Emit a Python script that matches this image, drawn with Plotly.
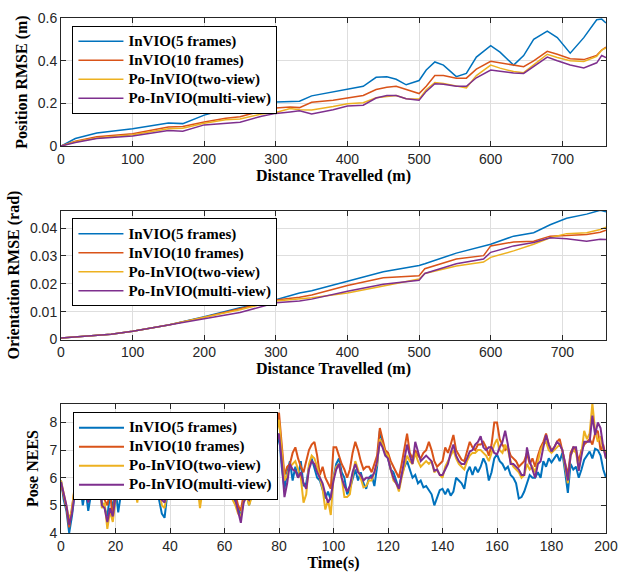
import plotly.graph_objects as go

# ---------------- data ----------------
names = ["InVIO(5 frames)", "InVIO(10 frames)", "Po-InVIO(two-view)", "Po-InVIO(multi-view)"]
colors = ["#0072BD", "#D95319", "#EDB120", "#7E2F8E"]

# Position RMSE (m) vs distance (m)
dist_pos = [0, 20, 50, 100, 150, 170, 200, 230, 250, 280, 300, 320, 333, 350, 380, 400, 422, 440, 455, 468,
            482, 500, 510, 522, 534, 552, 566, 580, 600, 613, 632, 646, 660, 679, 693, 711, 730, 748, 755, 761]
pos_invio5 = [0, .035, .061, .081, .108, .105, .145, .172, .158, .195, .206, .208, .21, .235, .255, .265, .28, .322, .325, .313,
              .287, .307, .356, .394, .379, .325, .34, .417, .47, .44, .379, .424, .50, .539, .508, .435, .508, .592, .595, .577]
pos_invio10 = [0, .023, .043, .058, .089, .092, .113, .13, .137, .165, .178, .183, .18, .205, .215, .226, .237, .265, .275, .28,
               .265, .246, .28, .33, .33, .318, .318, .36, .397, .39, .378, .372, .399, .444, .43, .409, .405, .425, .45, .463]
pos_two = [0, .02, .038, .053, .081, .083, .107, .123, .127, .15, .157, .176, .17, .169, .185, .198, .203, .226, .232, .237,
           .222, .22, .264, .298, .293, .282, .272, .33, .379, .365, .349, .344, .379, .43, .415, .40, .396, .42, .45, .46]
pos_multi = [0, .017, .035, .047, .073, .069, .099, .107, .111, .14, .153, .16, .165, .15, .17, .188, .191, .225, .237, .237,
             .222, .215, .256, .292, .29, .28, .28, .32, .356, .35, .342, .34, .371, .417, .40, .38, .366, .39, .424, .414]

# Orientation RMSE (rad) vs distance (m)
dist_ori = [0, 50, 70, 100, 150, 200, 250, 300, 333, 350, 400, 450, 500, 508, 552, 590, 600, 632, 660, 683, 706, 734, 753, 761]
ori_invio5 = [.0005, .0015, .0019, .003, .0052, .0082, .0114, .0143, .0167, .0175, .0208, .0243, .0266, .0272, .031, .0335,
              .0342, .0371, .0383, .0412, .0435, .045, .0464, .0458]
ori_invio10 = [.0005, .0015, .0019, .003, .0052, .0080, .0112, .0142, .0152, .016, .0194, .0222, .0229, .0254, .0289, .0301,
               .0336, .035, .0353, .0371, .0373, .0377, .0385, .0392]
ori_two = [.0005, .0015, .0019, .003, .0052, .0080, .0107, .0138, .0147, .015, .0167, .0192, .0217, .0237, .0264, .0278,
           .0295, .0318, .0342, .0365, .038, .0383, .0395, .0403]
ori_multi = [.0005, .0015, .0019, .003, .0052, .0076, .0097, .0132, .0138, .0145, .0173, .0198, .0213, .0237, .0272, .0289,
             .0313, .0336, .0348, .0365, .0362, .0353, .036, .0359]

# Pose NEES vs time (s), one reading per second
time_s = list(range(0, 201))
nees_invio5 = [
    5.9, 5.2, 4.8, 4.0, 4.6, 5.5, 6.2, 5.8, 5.0, 5.6,
    4.8, 5.4, 5.9, 5.3, 6.0, 5.1, 4.9, 4.6, 5.4, 4.9,
    5.6, 4.75, 5.5, 6.1, 5.8, 6.2, 5.3, 5.8, 5.2, 5.9,
    6.1, 5.5, 6.0, 5.6, 6.2, 5.7, 5.3, 4.7, 4.55, 5.4,
    5.8, 5.6, 5.3, 6.0, 5.5, 6.2, 5.9, 5.6, 6.3, 5.8,
    5.6, 5.2, 5.8, 5.3, 6.1, 5.8, 6.3, 5.9, 5.5, 6.1,
    5.8, 6.2, 5.6, 5.3, 5.1, 4.9, 4.6, 5.2, 5.5, 5.0,
    5.4, 5.9, 5.6, 6.1, 5.8, 6.3, 6.2, 6.9, 7.2, 7.0,
    7.6, 6.4, 5.6, 6.2, 6.6, 5.9, 6.4, 6.0, 6.6, 5.7,
    5.8, 6.4, 6.7, 6.3, 6.0, 5.9, 5.6, 5.25, 5.5, 5.2,
    6.0, 6.5, 6.7, 6.2, 6.0, 5.4, 5.6, 6.0, 6.3, 5.9,
    6.2, 5.8, 5.6, 6.0, 6.1, 5.7, 6.4, 7.7, 7.3, 6.9,
    6.7, 6.3, 6.2, 5.9, 5.6, 6.1, 6.4, 6.6, 6.3, 6.0,
    6.1, 5.8, 5.9, 5.65, 5.7, 5.55, 5.4, 5.0, 5.3, 5.55,
    5.6, 5.4, 5.6, 5.35, 5.5, 6.0, 5.9, 5.8, 5.6, 6.2,
    6.4, 6.1, 6.4, 6.2, 6.4, 6.7, 6.5, 5.9, 6.2, 6.7,
    6.85, 6.6, 6.5, 6.3, 6.4, 6.1, 6.0, 5.8, 5.25, 5.3,
    5.5, 5.8, 6.1, 6.0, 6.0, 6.2, 6.0, 6.6, 6.4, 6.7,
    6.55, 6.7, 6.85, 6.6, 6.9, 6.2, 5.45, 6.5, 6.3, 6.4,
    6.0, 6.3, 6.65, 6.8, 6.95, 6.7, 7.05, 7.0, 6.8, 6.3,
    6.0]
nees_invio10 = [
    5.8, 5.3, 4.9, 4.2, 4.9, 5.6, 6.3, 6.0, 5.5, 5.9,
    5.3, 5.7, 6.1, 5.6, 6.2, 5.4, 5.2, 5.0, 5.5, 4.5,
    5.6, 5.3, 5.9, 6.3, 6.0, 6.4, 5.6, 6.0, 5.4, 6.1,
    6.3, 5.8, 6.2, 5.9, 6.5, 6.0, 5.7, 5.3, 5.2, 5.8,
    6.1, 5.8, 5.6, 6.3, 5.9, 6.5, 6.2, 5.9, 6.6, 6.1,
    6.0, 5.5, 6.1, 5.6, 6.4, 6.1, 6.5, 6.2, 5.9, 6.4,
    6.2, 6.5, 5.9, 5.6, 5.4, 5.0, 4.8, 5.4, 5.8, 5.3,
    5.7, 6.2, 6.0, 6.4, 6.1, 6.6, 6.9, 7.7, 7.5, 7.9,
    8.35, 7.2, 6.1, 6.4, 6.5, 6.9, 7.1, 6.7, 6.4, 6.2,
    6.6, 7.0, 7.2, 7.3, 6.8, 6.1, 6.4, 6.0, 5.8, 5.6,
    7.1, 7.1, 6.8, 6.5, 6.3, 6.0, 6.3, 6.9, 7.3, 7.0,
    6.6, 6.3, 6.4, 6.4, 6.2, 6.5, 6.8, 7.8, 7.4, 7.0,
    6.9, 6.6, 6.4, 6.2, 6.0, 6.5, 7.0, 7.6, 6.9, 6.7,
    7.0, 6.8, 6.7, 6.9, 7.0, 7.3, 7.0, 6.6, 6.4, 6.5,
    6.6, 7.1, 6.9, 7.2, 7.55, 7.0, 6.8, 6.65, 6.6, 7.0,
    7.3, 7.1, 7.0, 7.2, 7.2, 7.3, 7.1, 6.8, 7.2, 8.0,
    8.0, 7.4, 7.2, 7.0, 7.1, 6.8, 6.7, 6.6, 6.4, 6.5,
    6.6, 6.9, 6.5, 6.7, 6.4, 6.8, 7.1, 7.3, 7.6, 7.2,
    7.0, 7.1, 7.3, 7.4, 7.0, 6.6, 6.1, 6.9, 7.1, 7.0,
    6.6, 7.0, 7.2, 7.3, 7.4, 7.2, 7.6, 7.7, 7.0, 7.2,
    6.7]
nees_two = [
    5.9, 5.4, 5.0, 4.5, 4.8, 5.7, 6.1, 5.9, 5.4, 5.7,
    5.3, 5.6, 5.8, 5.2, 6.1, 4.9, 5.1, 4.15, 4.8, 4.4,
    5.2, 5.4, 5.7, 6.1, 5.6, 6.2, 5.4, 5.7, 5.1, 5.9,
    6.0, 5.6, 5.7, 5.4, 6.2, 5.8, 5.6, 5.0, 4.9, 5.5,
    5.7, 5.5, 5.4, 6.0, 5.6, 6.2, 5.9, 5.7, 6.3, 5.9,
    5.8, 4.9, 5.6, 5.3, 6.0, 5.9, 6.2, 6.0, 5.6, 6.2,
    6.0, 6.3, 5.6, 5.2, 5.0, 4.7, 4.6, 5.1, 5.4, 5.0,
    5.3, 5.9, 5.7, 6.2, 5.9, 6.3, 6.5, 7.4, 7.3, 7.6,
    8.1, 6.9, 5.9, 6.1, 6.4, 6.5, 6.6, 6.3, 6.0, 5.1,
    5.4, 6.5, 6.8, 6.7, 6.4, 6.0, 5.6, 4.85, 5.2, 4.65,
    6.0, 6.4, 6.5, 6.0, 5.3, 5.3, 5.4, 6.1, 6.6, 6.3,
    6.0, 5.65, 5.7, 5.9, 5.9, 6.2, 6.5, 7.4, 7.2, 6.9,
    6.8, 6.3, 5.9, 5.8, 5.5, 6.0, 6.4, 6.8, 6.6, 6.5,
    6.9, 6.6, 6.4, 6.5, 6.6, 6.5, 6.6, 6.2, 6.3, 6.1,
    6.0, 6.4, 6.6, 6.8, 7.0, 6.7, 6.5, 6.4, 6.3, 6.6,
    6.8, 6.9, 6.9, 7.0, 7.0, 6.9, 6.8, 6.6, 6.9, 7.2,
    7.4, 7.0, 6.9, 7.2, 7.0, 6.6, 6.4, 6.3, 6.2, 6.0,
    6.1, 6.5, 6.3, 6.4, 6.2, 6.6, 7.0, 7.2, 7.3, 7.0,
    6.9, 7.0, 7.1, 7.2, 7.0, 6.4, 5.8, 6.8, 7.0, 6.9,
    6.3, 6.9, 7.7, 7.4, 7.6, 8.7, 7.7, 7.3, 7.5, 7.0,
    6.95]
nees_multi = [
    5.85, 5.4, 5.0, 4.3, 4.7, 5.4, 5.9, 5.6, 5.5, 5.8,
    5.1, 5.5, 5.7, 5.3, 6.0, 5.0, 4.9, 4.4, 4.9, 4.6,
    5.3, 5.6, 5.8, 6.0, 5.7, 6.1, 5.5, 5.8, 5.2, 5.9,
    6.1, 5.7, 5.9, 5.5, 6.2, 5.9, 5.7, 5.2, 5.1, 5.6,
    5.8, 5.6, 5.5, 6.1, 5.7, 6.3, 6.0, 5.8, 6.2, 5.9,
    5.8, 5.2, 5.7, 5.4, 6.1, 5.9, 6.3, 6.1, 5.7, 6.2,
    6.1, 6.4, 5.7, 5.3, 5.2, 4.8, 4.37, 5.1, 5.3, 5.2,
    5.5, 6.0, 5.8, 6.1, 5.9, 6.4, 6.6, 7.2, 7.0, 7.3,
    7.6, 6.6, 5.3, 5.8, 6.5, 6.3, 6.25, 6.0, 6.2, 5.8,
    5.6, 6.3, 6.6, 6.5, 6.2, 6.0, 5.8, 5.4, 5.1, 5.3,
    5.9, 6.3, 6.5, 6.0, 5.7, 5.5, 5.7, 6.2, 6.5, 6.2,
    6.1, 5.9, 6.0, 6.0, 6.0, 6.2, 6.6, 7.3, 7.1, 6.8,
    6.7, 6.3, 6.0, 5.8, 5.6, 6.1, 6.6, 7.2, 6.8, 6.5,
    7.3, 6.9, 6.6, 6.7, 6.8, 6.7, 6.6, 6.25, 6.3, 6.1,
    6.1, 6.3, 6.5, 6.9, 7.2, 6.8, 6.6, 6.5, 6.5, 6.7,
    6.95, 7.0, 7.2, 7.3, 7.5, 7.1, 7.0, 7.1, 7.1, 6.9,
    6.85, 7.1, 7.3, 7.7, 7.2, 6.5, 6.5, 6.4, 6.3, 6.1,
    6.1, 7.1, 6.6, 6.3, 6.0, 6.5, 6.6, 7.1, 7.55, 7.2,
    6.95, 7.1, 7.3, 7.2, 7.0, 6.5, 5.9, 6.8, 7.1, 7.1,
    6.25, 6.8, 7.3, 7.3, 7.3, 8.25, 7.55, 8.0, 7.8, 7.1,
    6.7]

pos_series = [pos_invio5, pos_invio10, pos_two, pos_multi]
ori_series = [ori_invio5, ori_invio10, ori_two, ori_multi]
nees_series = [nees_invio5, nees_invio10, nees_two, nees_multi]

# ---------------- figure ----------------
fig = go.Figure()
panels = [
    (dist_pos, pos_series, "x", "y", "legend", 1.5),
    (dist_ori, ori_series, "x2", "y2", "legend2", 1.5),
    (time_s, nees_series, "x3", "y3", "legend3", 2.0),
]
for xs, series, xa, ya, lg, lw in panels:
    for name, col, ys in zip(names, colors, series):
        fig.add_trace(go.Scatter(x=xs, y=ys, mode="lines",
                                 name="<span style='font-size:15px'>" + name + "</span>",
                                 xaxis=xa, yaxis=ya, legend=lg, line=dict(color=col, width=lw)))

SERIF = "Liberation Serif, Times New Roman, serif"
SANS = "Liberation Sans, Arial, sans-serif"
TXT = "#262626"

def xax(anchor, rng, dtick, title):
    return dict(anchor=anchor, domain=[0, 1], range=rng, dtick=dtick, tick0=0,
                showline=True, linecolor=TXT, linewidth=1, mirror="allticks",
                ticks="inside", ticklen=5, tickcolor=TXT, showgrid=True, gridcolor="#dedede",
                zeroline=False, tickfont=dict(family=SANS, size=14, color=TXT), ticklabelstandoff=0,
                title=dict(text=title, font=dict(family=SERIF, size=16, color="#000"), standoff=3))

def yax(anchor, dom, rng, dtick, title, tick0=0):
    return dict(anchor=anchor, domain=dom, range=rng, dtick=dtick, tick0=tick0,
                showline=True, linecolor=TXT, linewidth=1, mirror="allticks",
                ticks="inside", ticklen=5, tickcolor=TXT, showgrid=True, gridcolor="#dedede",
                zeroline=False, tickfont=dict(family=SANS, size=14, color=TXT),
                title=dict(text=title, font=dict(family=SERIF, size=16, color="#000"), standoff=6))

def leg(x, y):
    return dict(x=x, y=y, xanchor="left", yanchor="top", bgcolor="white", bordercolor="#000",
                borderwidth=1, font=dict(family=SERIF, size=12, color="#000", weight="bold"),
                itemwidth=45, tracegroupgap=0)

fig.update_layout(
    width=636, height=578, margin=dict(l=61, r=30, t=10, b=41),
    plot_bgcolor="white", paper_bgcolor="white", showlegend=True,
    xaxis=xax("y", [0, 761], 100, "<b>Distance Travelled (m)</b>"),
    yaxis=yax("x", [0.7514, 1.0], [0, 0.6], 0.2, "<b>Position RMSE (m)</b>"),
    xaxis2=xax("y2", [0, 761], 100, "<b>Distance Travelled (m)</b>"),
    yaxis2=yax("x2", [0.3757, 0.6262], [0, 0.0463], 0.01, "<b>Orientation RMSE (rad)</b>"),
    xaxis3=xax("y3", [0, 200], 20, "<b>Time(s)</b>"),
    yaxis3=yax("x3", [0, 0.2505], [4, 8.67], 1, "<b>Pose NEES</b>", tick0=4),
    legend=leg(0.021, 0.985),
    legend2=leg(0.021, 0.611),
    legend3=leg(0.022, 0.2347),
)

fig.write_html("out.html")
